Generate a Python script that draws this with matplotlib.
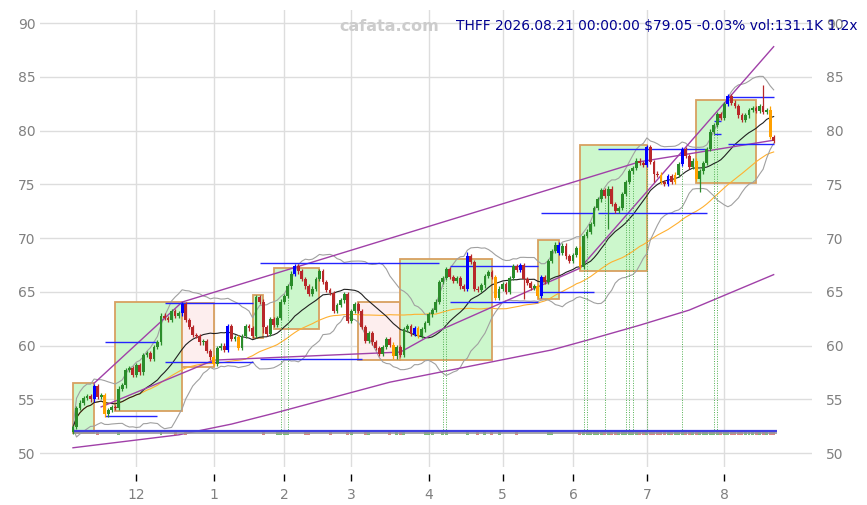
import numpy as np
import pandas as pd
import matplotlib
matplotlib.use("Agg")
import matplotlib.pyplot as plt
import matplotlib.patches as patches

# ---- data ----
start_date, end_date = "2025-11-04", "2026-08-21"
holidays = ["2025-11-27", "2025-12-25", "2026-01-01", "2026-01-19", "2026-02-16",
            "2026-04-03", "2026-05-25", "2026-06-19", "2026-07-03"]

first_open = 52.0
closes = [
    52.4, 54.2, 54.7, 55.1, 55.3, 55.0, 56.2, 55.2, 55.4, 53.6,
    54.0, 54.3, 54.2, 56.0, 56.3, 57.7, 57.9, 57.3, 58.2, 57.5,
    59.1, 59.3, 58.8, 59.9, 60.3, 62.8, 62.6, 62.4, 63.2, 62.8,
    63.0, 63.9, 62.4, 61.7, 61.0, 60.9, 60.3, 60.4, 59.5, 58.9,
    58.3, 59.8, 60.0, 59.6, 61.8, 60.6, 60.8, 59.8, 60.9, 61.8,
    61.6, 60.9, 64.5, 64.1, 61.7, 61.1, 62.5, 61.9, 62.6, 64.1,
    64.6, 65.5, 66.7, 67.4, 66.9, 66.2, 65.5, 64.8, 65.3, 66.2,
    66.9, 65.9, 65.2, 64.9, 63.2, 63.8, 64.2, 64.8, 62.3, 63.2,
    63.9, 63.2, 61.7, 60.4, 61.2, 60.3, 59.8, 59.2, 59.9, 60.6,
    60.1, 59.0, 59.9, 59.1, 61.5, 61.8, 61.1, 61.6, 60.9, 61.5,
    62.1, 62.9, 63.3, 64.1, 65.9, 66.3, 67.1, 66.4, 66.0, 66.3,
    65.5, 65.3, 68.3, 67.8, 65.3, 65.2, 65.6, 66.5, 66.8, 66.4,
    64.4, 65.3, 65.7, 65.0, 66.3, 67.4, 67.0, 67.5, 66.2, 65.8,
    65.4, 65.5, 64.6, 66.4, 65.9, 67.9, 68.8, 69.4, 68.6, 69.3,
    68.3, 67.9, 68.4, 69.1, 67.3, 70.2, 70.6, 71.3, 72.8, 73.6,
    74.5, 73.9, 74.6, 73.2, 72.5, 72.8, 74.1, 75.2, 76.2, 76.5,
    77.2, 77.0, 76.8, 78.5, 77.1, 76.0, 75.9, 75.2, 75.0, 75.8,
    75.2, 75.9, 76.9, 78.3, 77.6, 76.6, 77.2, 75.5, 76.2, 77.0,
    78.3, 79.9, 80.5, 81.5, 81.2, 82.5, 83.2, 82.6, 82.3, 81.4,
    81.0, 81.4, 81.9, 82.1, 81.8, 82.3, 81.7, 81.9, 79.4, 79.05,
]
# a few long shadows
wick_idx = [54, 112, 128, 152, 165, 178, 196, 198]
wick_to = [61.2, 68.7, 64.3, 70.8, 75.2, 74.3, 84.2, 82.3]

blue_idx = [6, 31, 44, 63, 97, 112, 127, 133, 138, 163, 169, 173, 186]
orange_idx = [9, 40, 47, 91, 98, 120, 132, 144, 167, 171, 177, 198]

# boxes: start idx, end idx, low, high, kind
box_start = [0, 12, 31, 51, 57, 81, 93, 132, 144, 177]
box_end = [6, 31, 40, 54, 70, 93, 119, 138, 163, 194]
box_low = [51.9, 53.9, 58.0, 60.7, 61.5, 58.7, 58.7, 64.3, 66.9, 75.1]
box_high = [56.5, 64.05, 64.0, 64.7, 67.2, 64.1, 68.1, 69.8, 78.65, 82.8]
box_kind = ["up", "up", "down", "up", "up", "down", "up", "up", "up", "up"]

# blue level segments
lvl_start = [9, 9, 26, 26, 53, 53, 107, 107, 133, 149, 133, 149, 186, 186, 182, 182]
lvl_end = [24, 24, 51, 51, 104, 82, 132, 132, 148, 180, 148, 180, 199, 199, 184, 184]
lvl_price = [60.3, 53.45, 63.95, 58.45, 67.7, 58.75, 67.4, 64.05, 72.3, 72.3, 65.0, 78.3,
             83.1, 78.75, 80.9, 79.7]

# signal days (green dotted verticals)
signal_idx = [59, 61, 105, 106, 145, 146, 151, 157, 158, 159, 163, 173, 182, 183]

# purple trend lines (idx, price)
upper_x = [6, 31, 161, 199]
upper_y = [56.5, 64.05, 77.1, 79.1]
mid_x = [8, 40, 93, 104, 144, 199]
mid_y = [54.3, 58.65, 59.4, 61.4, 67.2, 87.8]
low_x = [0, 30, 45, 57, 90, 136, 146, 161, 175, 199]
low_y = [50.5, 51.7, 52.7, 53.7, 56.6, 59.6, 60.5, 61.9, 63.3, 66.6]

# visible volume bars
vol_idx = [7, 13, 25, 29, 32, 54, 58, 59, 60, 61, 66, 67, 73, 78, 79, 83, 84, 90, 92, 93,
           94, 100, 101, 102, 105, 106, 112, 115, 117, 119, 121, 126, 135, 136] + list(range(144, 200))
vol_tall = [66, 92, 155, 160]

title = "THFF 2026.08.21 00:00:00 $79.05 -0.03% vol:131.1K 1.2x"
month_labels = ["12", "1", "2", "3", "4", "5", "6", "7", "8"]

# ---- build ----
dates = pd.bdate_range(start_date, end_date, freq="C", holidays=holidays)
n = len(closes)
idx = np.arange(n)
c = np.array(closes)
o = np.concatenate([[first_open], c[:-1]])
hi = np.maximum(o, c) + 0.2
lo = np.minimum(o, c) - 0.2
for k, v in zip(wick_idx, wick_to):
    if v > hi[k]:
        hi[k] = v
    else:
        lo[k] = min(lo[k], v)

cols = np.where(c >= o, "#2a8c2a", "#b8282a").astype(object)
for k in blue_idx:
    cols[k] = "#0000ff"
for k in orange_idx:
    cols[k] = "#ffa000"

s = pd.Series(c)
sma20 = s.rolling(20, min_periods=1).mean()
sma50 = s.rolling(50, min_periods=1).mean()
sd = s.rolling(20, min_periods=1).std(ddof=0)

fig = plt.figure(figsize=(8.67, 5.05), dpi=100)
ax = fig.add_axes([0.046, 0.075, 0.891, 0.905])

for a, b, l, h, kd in zip(box_start, box_end, box_low, box_high, box_kind):
    fc = "#ccf7cc" if kd == "up" else "#fdeeee"
    ax.add_patch(patches.Rectangle((a, l), b - a, h - l, facecolor=fc,
                                   edgecolor="#d8a060", linewidth=1.3, zorder=1))

ax.plot(idx, sma50, color="#ffb030", lw=0.8, zorder=2)
ax.plot(idx, sma20 + 2 * sd, color="#a0a0a0", lw=0.8, zorder=2)
ax.plot(idx, sma20 - 2 * sd, color="#a0a0a0", lw=0.8, zorder=2)
ax.plot(idx, sma20, color="#202020", lw=0.8, zorder=2)
for xs, ys in [(upper_x, upper_y), (mid_x, mid_y), (low_x, low_y)]:
    ax.plot(xs, ys, color="#a040a8", lw=1.0, zorder=2)

ax.hlines(lvl_price, lvl_start, lvl_end, colors="#2424ff", lw=1.0, zorder=3)
ax.vlines(signal_idx, 52.0, lo[signal_idx], colors="#50b050", lw=0.7,
          linestyles=(0, (1, 1.5)), zorder=2)

# volume strip
vc = ["#60b060" if c[k] >= o[k] else "#d07070" for k in vol_idx]
vh = [0.45 if k in vol_tall else 0.28 for k in vol_idx]
ax.bar(vol_idx, vh, bottom=51.72, width=0.85, color=vc, alpha=0.85, zorder=3)
ax.hlines(51.85, 0, n, colors="#999999", lw=1.2, zorder=3)
ax.hlines(52.03, 0, n, colors="#4040e0", lw=1.6, zorder=4)

# candles
ax.vlines(idx, lo, hi, colors=list(cols), lw=0.9, zorder=5)
body = np.maximum(np.abs(c - o), 0.08)
ax.bar(idx, body, bottom=np.minimum(o, c), width=0.8, color=list(cols), zorder=6)

ax.set_xlim(-9.4, 210)
ax.set_ylim(48.7, 91.2)
ax.set_yticks(range(50, 91, 5))
ticks = [dates.get_loc(dates[dates.month == m][0]) for m in [12, 1, 2, 3, 4, 5, 6, 7, 8]]
ax.set_xticks(ticks)
ax.set_xticklabels(month_labels)
ax.grid(True, color="#dddddd", lw=1.0)
ax.set_axisbelow(True)
for sp in ax.spines.values():
    sp.set_visible(False)
ax.spines["bottom"].set_position(("outward", 5))
ax.tick_params(axis="x", colors="black", length=5, width=1, labelcolor="#808080",
               labelsize=10, pad=5)
ax.tick_params(axis="y", length=0, labelcolor="#808080", labelsize=10, pad=3)

ax2 = ax.twinx()
ax2.set_ylim(ax.get_ylim())
ax2.set_yticks(range(50, 91, 5))
for sp in ax2.spines.values():
    sp.set_visible(False)
ax2.tick_params(axis="y", length=0, labelcolor="#808080", labelsize=10, pad=10)

fig.text(0.449, 0.948, "cafata.com", color="#cccccc", fontsize=11.5,
         fontweight="bold", ha="center", va="center")
fig.text(0.989, 0.948, title, color="#000090", fontsize=9.9, ha="right", va="center")

fig.savefig("out.png", dpi=100)
